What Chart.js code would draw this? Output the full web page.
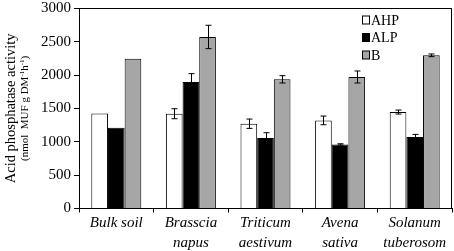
<!DOCTYPE html>
<html><head><meta charset="utf-8">
<script src="https://cdn.jsdelivr.net/npm/chart.js@4/dist/chart.umd.min.js"></script>
<style>html,body{margin:0;padding:0;background:#fff}#w{width:454px;height:251px;position:relative}</style>
</head><body><div id="w"><canvas id="c" width="454" height="251"></canvas></div>
<script>
const categories = [["Bulk soil"], ["Brasscia", "napus"], ["Triticum", "aestivum"], ["Avena", "sativa"], ["Solanum", "tuberosom"]];
const seriesNames = ["AHP", "ALP", "B"];
const ahp = [1425, 1420, 1270, 1320, 1445];
const ahpErr = [0, 75, 70, 65, 30];
const alp = [1210, 1895, 1055, 960, 1070];
const alpErr = [0, 125, 80, 10, 40];
const bVals = [2245, 2570, 1935, 1970, 2295];
const bErr = [0, 175, 55, 90, 20];
const yTicks = [0, 500, 1000, 1500, 2000, 2500, 3000];

const SERIF = '"Liberation Serif", "Times New Roman", serif';
const errs = [ahpErr, alpErr, bErr];

const extras = {
  id: 'extras',
  afterDatasetsDraw(chart) {
    const ctx = chart.ctx, y = chart.scales.y, ca = chart.chartArea;
    ctx.save();
    ctx.strokeStyle = '#000'; ctx.lineWidth = 1;
    chart.data.datasets.forEach((ds, di) => {
      const meta = chart.getDatasetMeta(di);
      meta.data.forEach((bar, i) => {
        const e = errs[di][i]; if (!e) return;
        const v = ds.data[i];
        const x = Math.round(bar.x) + 0.5;
        const y1 = y.getPixelForValue(v + e), y2 = y.getPixelForValue(v - e);
        ctx.beginPath();
        ctx.moveTo(x, y1); ctx.lineTo(x, y2);
        ctx.moveTo(x - 3, y1); ctx.lineTo(x + 3, y1);
        ctx.moveTo(x - 3, y2); ctx.lineTo(x + 3, y2);
        ctx.stroke();
      });
    });
    // frame
    ctx.strokeRect(Math.round(ca.left) + 0.5, Math.round(ca.top) + 0.5, Math.round(ca.right - ca.left) - 1, Math.round(ca.bottom - ca.top));
    // legend
    ctx.font = '14px ' + SERIF;
    ctx.textBaseline = 'middle'; ctx.textAlign = 'left';
    chart.data.datasets.forEach((ds, di) => {
      const ly = 20 + di * 17.5;
      ctx.fillStyle = ds.backgroundColor;
      ctx.fillRect(362.5, ly - 4, 7, 8);
      ctx.strokeRect(362.5, ly - 4, 7, 8);
      ctx.fillStyle = '#000';
      ctx.fillText(ds.label, 371, ly + 1);
    });
    // y axis title
    const cy = (ca.top + ca.bottom) / 2;
    ctx.translate(11, cy); ctx.rotate(-Math.PI / 2);
    ctx.textAlign = 'center'; ctx.fillStyle = '#000';
    ctx.font = '14.5px ' + SERIF;
    ctx.fillText('Acid phosphatase activity', 0, 0);
    // second line with superscripts
    const parts = [['(nmol  MUF g DM', 0], ['-1', 1], ['h', 0], ['-1', 1], [')', 0]];
    const fN = '11px ' + SERIF, fS = '7px ' + SERIF;
    let total = 0;
    parts.forEach(p => { ctx.font = p[1] ? fS : fN; total += ctx.measureText(p[0]).width; });
    let x = -total / 2;
    ctx.textAlign = 'left';
    parts.forEach(p => {
      ctx.font = p[1] ? fS : fN;
      ctx.fillText(p[0], x, p[1] ? 11 : 14);
      x += ctx.measureText(p[0]).width;
    });
    ctx.restore();
  }
};

new Chart(document.getElementById('c'), {
  type: 'bar',
  data: {
    labels: categories,
    datasets: [
      { label: seriesNames[0], data: ahp, backgroundColor: '#ffffff', borderColor: '#000', borderWidth: 1 },
      { label: seriesNames[1], data: alp, backgroundColor: '#000000', borderColor: '#000', borderWidth: 1 },
      { label: seriesNames[2], data: bVals, backgroundColor: '#a6a6a6', borderColor: '#000', borderWidth: 1 }
    ]
  },
  options: {
    responsive: false, animation: false, devicePixelRatio: 1,
    layout: { padding: { left: 38, top: 0, right: 2, bottom: -2 } },
    plugins: { legend: { display: false }, tooltip: { enabled: false } },
    datasets: { bar: { categoryPercentage: 0.67, barPercentage: 1.0 } },
    scales: {
      x: {
        grid: { offset: true, drawOnChartArea: false, drawTicks: true, tickLength: 4, color: '#000' },
        border: { display: true, color: '#000', width: 1 },
        ticks: { color: '#000', font: { family: SERIF, size: 15, style: 'italic', lineHeight: 1.35 }, maxRotation: 0, autoSkip: false, padding: 0 }
      },
      y: {
        min: 0, max: 3000,
        afterBuildTicks: s => { s.ticks = yTicks.map(v => ({ value: v })); },
        grid: { drawOnChartArea: false, drawTicks: true, tickLength: 5, color: '#000' },
        border: { display: true, color: '#000', width: 1 },
        ticks: { color: '#000', font: { family: SERIF, size: 15, lineHeight: 0.7 }, padding: 3, callback: v => String(v) }
      }
    }
  },
  plugins: [extras]
});
</script>
</body></html>
